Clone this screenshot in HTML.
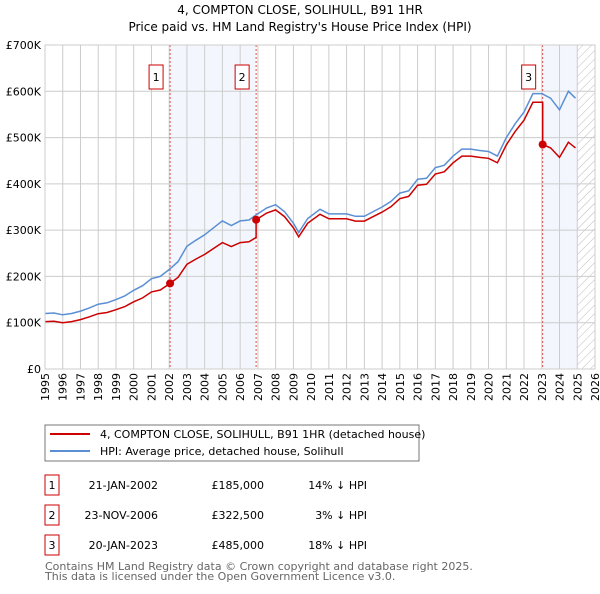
<!DOCTYPE html>
<html><head><meta charset="utf-8"><style>
body{margin:0;background:#fff;font-family:"DejaVu Sans","Liberation Sans",sans-serif;}
svg text{font-family:"DejaVu Sans","Liberation Sans",sans-serif;}
</style></head><body>
<svg id="c" width="600" height="590" xmlns="http://www.w3.org/2000/svg">
<defs><pattern id="hatch" width="6" height="6" patternUnits="userSpaceOnUse" patternTransform="rotate(45)"><line x1="0" y1="0" x2="0" y2="6" stroke="#bbb" stroke-width="1"/></pattern></defs>
<text x="300" y="14" text-anchor="middle" font-size="12">4, COMPTON CLOSE, SOLIHULL, B91 1HR</text>
<text x="300" y="31" text-anchor="middle" font-size="12">Price paid vs. HM Land Registry's House Price Index (HPI)</text>
<g id="plot"></g>
<rect x="45" y="425" width="374" height="36" fill="#fff" stroke="#777"/>
<line x1="50" y1="434" x2="90" y2="434" stroke="#cc0000" stroke-width="2"/>
<text x="100" y="438" font-size="11">4, COMPTON CLOSE, SOLIHULL, B91 1HR (detached house)</text>
<line x1="50" y1="451" x2="90" y2="451" stroke="#5b8fd4" stroke-width="2"/>
<text x="100" y="455" font-size="11">HPI: Average price, detached house, Solihull</text>
<g id="table" font-size="11"></g>
<text x="45" y="570" font-size="11" fill="#666">Contains HM Land Registry data © Crown copyright and database right 2025.</text>
<text x="45" y="580" font-size="11" fill="#666">This data is licensed under the Open Government Licence v3.0.</text>
</svg>
<script>
const hpiYears=[1995,1995.5,1996,1996.5,1997,1997.5,1998,1998.5,1999,1999.5,2000,2000.5,2001,2001.5,2002,2002.5,2003,2003.5,2004,2004.5,2005,2005.5,2006,2006.5,2006.9,2007.5,2008,2008.5,2009,2009.3,2009.8,2010.5,2011,2011.5,2012,2012.5,2013,2013.5,2014,2014.5,2015,2015.5,2016,2016.5,2017,2017.5,2018,2018.5,2019,2019.5,2020,2020.5,2021,2021.5,2022,2022.5,2023,2023.5,2024,2024.5,2024.9];
const hpiValues=[120,121,117,120,125,132,140,143,150,158,170,180,195,200,215,232,265,278,290,305,320,310,320,322,333,348,355,340,315,295,325,345,335,335,335,330,330,340,350,362,380,385,410,412,435,440,460,475,475,472,470,460,500,530,555,595,595,585,560,600,585];
const saleDates=[2002.05,2006.9,2023.05];
const salePrices=[185,322.5,485];
const saleLabels=["1","2","3"];
const saleDateText=["21-JAN-2002","23-NOV-2006","20-JAN-2023"];
const salePriceText=["£185,000","£322,500","£485,000"];
const salePctText=["14% ↓ HPI","3% ↓ HPI","18% ↓ HPI"];
const yTicks=[0,100,200,300,400,500,600,700];
const yTickLabels=["£0","£100K","£200K","£300K","£400K","£500K","£600K","£700K"];
const xTicks=[];for(let y=1995;y<=2026;y++)xTicks.push(y);

const X0=45,X1=595,Y0=369,Y1=45;
const xs=y=>X0+(y-1995)/(2026-1995)*(X1-X0);
const ys=v=>Y0-v/700*(Y0-Y1);
const NS="http://www.w3.org/2000/svg";
const plot=document.getElementById('plot');
function mk(tag,attrs,parent){const e=document.createElementNS(NS,tag);for(const k in attrs)e.setAttribute(k,attrs[k]);(parent||plot).appendChild(e);return e;}
function hpiAt(t){for(let i=0;i<hpiYears.length-1;i++){if(t<=hpiYears[i+1]){const f=(t-hpiYears[i])/(hpiYears[i+1]-hpiYears[i]);return hpiValues[i]+f*(hpiValues[i+1]-hpiValues[i]);}}return hpiValues[hpiValues.length-1];}

let r=mk('rect',{x:xs(saleDates[0]),y:Y1,width:xs(saleDates[1])-xs(saleDates[0]),height:Y0-Y1,fill:'#eef3fc',opacity:0.7});


r=mk('rect',{x:xs(saleDates[2]),y:Y1,width:xs(2025)-xs(saleDates[2]),height:Y0-Y1,fill:'#eef3fc',opacity:0.7});


r=mk('rect',{x:xs(2025),y:Y1,width:X1-xs(2025),height:Y0-Y1,fill:'url(#hatch)'});


xTicks.forEach(y=>{const l=mk('line',{x1:xs(y),x2:xs(y),y1:Y1,y2:Y0,stroke:'#ccc','stroke-width':1});


const tx=xs(y)+4,ty=Y0+4;
const t=mk('text',{x:tx,y:ty,'font-size':11,'text-anchor':'end',transform:'rotate(-90 '+tx+' '+ty+')'});t.textContent=y;

});
yTicks.forEach((v,i)=>{const l=mk('line',{x1:X0,x2:X1,y1:ys(v),y2:ys(v),stroke:'#ccc','stroke-width':1});


const t=mk('text',{x:X0-4,y:ys(v)+4,'font-size':11,'text-anchor':'end'});t.textContent=yTickLabels[i];

});
saleDates.forEach((d,i)=>{const l=mk('line',{x1:xs(d),x2:xs(d),y1:Y1,y2:Y0,stroke:'#e05050','stroke-width':1,'stroke-dasharray':'2,2'});


const b=mk('rect',{x:xs(d)-21,y:65,width:14,height:24,fill:'#fff',stroke:'#cc0000'});


const t=mk('text',{x:xs(d)-14,y:81,'font-size':11,'text-anchor':'middle'});t.textContent=saleLabels[i];

});
let p=hpiYears.map((y,i)=>(i?'L':'M')+xs(y).toFixed(1)+','+ys(hpiValues[i]).toFixed(1)).join('');
let hl=mk('path',{d:p,fill:'none',stroke:'#5b8fd4','stroke-width':1.5});


function ratioAt(t){let k=0;for(let i=0;i<saleDates.length;i++)if(t>=saleDates[i])k=i;return salePrices[k]/hpiAt(saleDates[k]);}
const pts=[];
const times=hpiYears.concat(saleDates).sort((a,b)=>a-b);
times.forEach(t=>{
 saleDates.forEach((d,k)=>{if(Math.abs(t-d)<1e-9&&k>0){pts.push([t,hpiAt(t)*salePrices[k-1]/hpiAt(saleDates[k-1])]);}});
 pts.push([t,hpiAt(t)*ratioAt(t)]);});
p=pts.map((q,i)=>(i?'L':'M')+xs(q[0]).toFixed(1)+','+ys(q[1]).toFixed(1)).join('');
let pl=mk('path',{d:p,fill:'none',stroke:'#cc0000','stroke-width':1.5});


saleDates.forEach((d,i)=>{const c=mk('circle',{cx:xs(d),cy:ys(salePrices[i]),r:4,fill:'#cc0000'});

});
let f=mk('rect',{x:X0,y:Y1,width:X1-X0,height:Y0-Y1,fill:'none',stroke:'#ccc'});


const tb=document.getElementById('table');
saleDates.forEach((d,i)=>{const y=475+i*30;
const b=mk('rect',{x:45,y:y,width:14,height:20,fill:'#fff',stroke:'#cc0000'},tb);


const cells=[[52,'middle',saleLabels[i],'table-row-number'],[158,'end',saleDateText[i],'table-date'],[264,'end',salePriceText[i],'table-price'],[367,'end',salePctText[i],'table-hpi-diff']];
cells.forEach(c=>{const t=mk('text',{x:c[0],y:y+14,'text-anchor':c[1]},tb);t.textContent=c[2];

});});
</script>
</body></html>
